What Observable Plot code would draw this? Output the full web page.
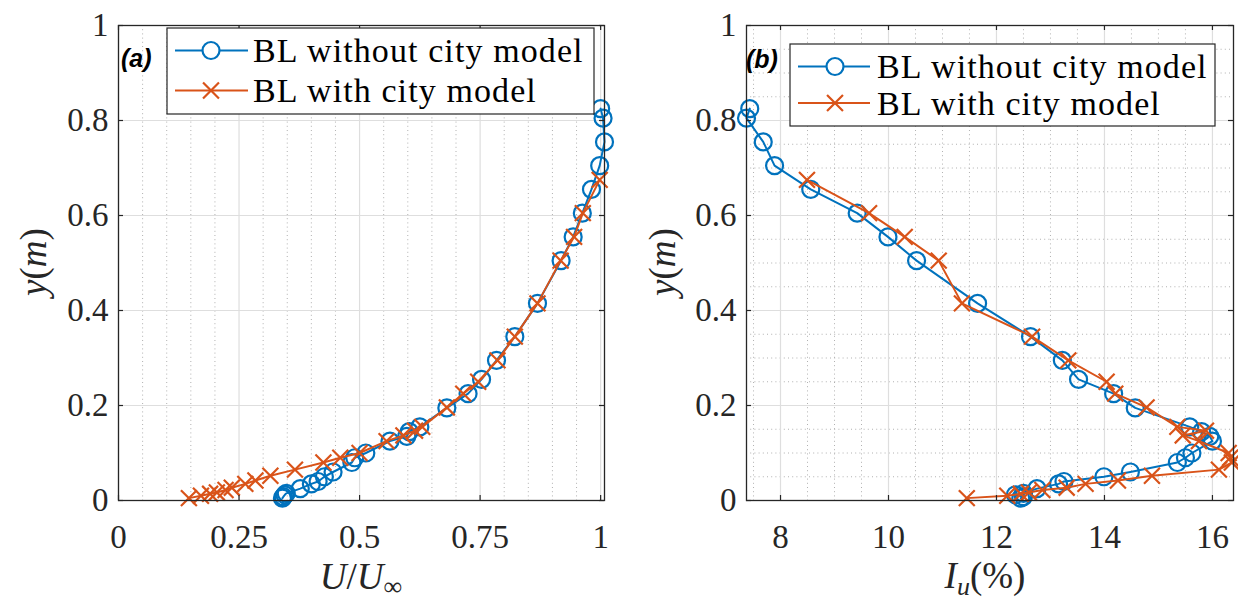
<!DOCTYPE html>
<html>
<head>
<meta charset="utf-8">
<script src="https://cdn.jsdelivr.net/npm/d3@7"></script>
<script src="https://cdn.jsdelivr.net/npm/@observablehq/plot@0.6"></script>
<style>
  html, body { margin: 0; padding: 0; background: #fff; }
  #wrap { position: relative; width: 1238px; height: 603px; overflow: hidden; }
  .panel { position: absolute; top: 0; }
  svg { overflow: visible; }
</style>
</head>
<body>
<div id="wrap">
  <div class="panel" id="pa" style="left:0px"></div>
  <div class="panel" id="pb" style="left:620px"></div>
</div>
<script>
// ---------- data ----------
const seriesNames = ["BL without city model", "BL with city model"];

// BL without city model (blue circles)
const yBlue  = [0.005,0.008,0.012,0.015,0.025,0.035,0.04,0.05,0.06,0.08,0.09,0.1,0.125,0.135,0.145,0.155,0.195,0.225,0.255,0.295,0.345,0.415,0.505,0.555,0.605,0.655,0.705,0.755,0.805,0.825];
const uBlue  = [0.34,0.342,0.345,0.348,0.377,0.40,0.414,0.427,0.445,0.484,0.49,0.513,0.563,0.598,0.603,0.625,0.681,0.725,0.753,0.784,0.822,0.869,0.918,0.943,0.962,0.981,0.998,1.008,1.005,1.0];
const iuBlue = [12.45,12.5,12.35,12.5,12.75,13.15,13.25,13.99,14.48,15.35,15.5,15.62,16.0,15.95,15.8,15.58,14.57,14.17,13.52,13.22,12.63,11.65,10.52,9.99,9.42,8.56,7.89,7.68,7.37,7.43];

// BL with city model (orange crosses)
const yOrange  = [0.005,0.01,0.014,0.017,0.022,0.027,0.035,0.042,0.052,0.065,0.08,0.09,0.1,0.125,0.137,0.147,0.155,0.196,0.225,0.25,0.295,0.345,0.415,0.505,0.555,0.605,0.675];
const uOrange  = [0.146,0.171,0.19,0.204,0.222,0.235,0.263,0.284,0.315,0.366,0.425,0.46,0.5,0.556,0.591,0.615,0.63,0.681,0.715,0.746,0.786,0.822,0.869,0.917,0.945,0.963,0.998];
const iuOrange = [11.45,12.2,12.45,12.6,12.85,13.3,13.65,14.25,14.88,16.12,16.36,16.33,16.3,15.75,15.45,15.88,15.35,14.78,14.2,14.04,13.33,12.66,11.36,10.93,10.3,9.64,8.49];

// ticks
const uTicks  = [0, 0.25, 0.5, 0.75, 1];
const iuTicks = [8, 10, 12, 14, 16];
const yTicks  = [0, 0.2, 0.4, 0.6, 0.8, 1];
const uMinor  = d3.range(1, 21).map(i => +(i * 0.05).toFixed(2)).filter(v => Math.abs(v / 0.25 - Math.round(v / 0.25)) > 1e-6);
const iuMinor = d3.range(15, 33).map(i => i / 2).filter(v => v % 2 !== 0);
const yMinor  = d3.range(1, 20).map(i => +(i * 0.05).toFixed(2)).filter(v => Math.abs(v / 0.2 - Math.round(v / 0.2)) > 1e-6);

// ---------- style ----------
const BLUE = "#0072BD", ORANGE = "#D95319", INK = "#262626";
const SERIF = "'Liberation Serif', 'DejaVu Serif', serif";
const H = 603, MT = 25, MB = 103;

function makePanel({width, ml, mr, xDomain, xTicks, xMinor, yMinorTicks, xBlue, xOrange}) {
  const blue = yBlue.map((y, i) => ({x: xBlue[i], y}));
  const orange = yOrange.map((y, i) => ({x: xOrange[i], y}));
  const frameW = width - ml - mr, frameH = H - MT - MB;
  const tl = 5;
  const marks = [
    Plot.ruleX(xMinor, {x: d => d, stroke: "#a8a8a8", strokeWidth: 0.9, strokeDasharray: "1,3.2"}),
  ];
  if (yMinorTicks) marks.push(Plot.ruleY(yMinorTicks, {y: d => d, stroke: "#a8a8a8", strokeWidth: 0.9, strokeDasharray: "1,3.2"}));
  marks.push(
    Plot.gridX(xTicks, {stroke: "#dedede", strokeOpacity: 1, strokeWidth: 1.2}),
    Plot.gridY(yTicks, {stroke: "#dedede", strokeOpacity: 1, strokeWidth: 1.2}),
    Plot.line(blue, {x: "x", y: "y", stroke: BLUE, strokeWidth: 2}),
    Plot.dot(blue, {x: "x", y: "y", r: 8.5, stroke: BLUE, strokeWidth: 2.2, fill: "none"}),
    Plot.line(orange, {x: "x", y: "y", stroke: ORANGE, strokeWidth: 2}),
    Plot.dot(orange, {x: "x", y: "y", symbol: "times", r: 7.3, stroke: ORANGE, strokeWidth: 2.2}),
    Plot.tickX(xTicks, {x: d => d, insetTop: frameH - tl, stroke: INK, strokeWidth: 1.2}),
    Plot.tickX(xTicks, {x: d => d, insetBottom: frameH - tl, stroke: INK, strokeWidth: 1.2}),
    Plot.tickY(yTicks, {y: d => d, insetRight: frameW - tl, stroke: INK, strokeWidth: 1.2}),
    Plot.tickY(yTicks, {y: d => d, insetLeft: frameW - tl, stroke: INK, strokeWidth: 1.2}),
    Plot.axisX({ticks: xTicks, tickFormat: d => String(d), tickSize: 0, tickPadding: 24, label: null, fill: INK}),
    Plot.axisY({ticks: yTicks, tickFormat: d => String(d), tickSize: 0, tickPadding: 10, label: null, fill: INK}),
    Plot.frame({stroke: INK, strokeWidth: 1.3})
  );
  return Plot.plot({
    width, height: H,
    marginLeft: ml, marginRight: mr, marginTop: MT, marginBottom: MB,
    x: {domain: xDomain, axis: null},
    y: {domain: [0, 1], axis: null},
    style: {fontFamily: SERIF, fontSize: "33px", color: INK, background: "white", overflow: "visible"},
    marks
  });
}

function addLegend(svg, {x, y, w, h, rows, lineX0, lineX1, markX, textX}) {
  const g = svg.append("g").attr("text-anchor", "start");
  g.append("rect").attr("x", x).attr("y", y).attr("width", w).attr("height", h)
    .attr("fill", "white").attr("stroke", INK).attr("stroke-width", 1.2);
  const colors = [BLUE, ORANGE];
  rows.forEach((ry, i) => {
    g.append("line").attr("x1", lineX0).attr("x2", lineX1).attr("y1", ry).attr("y2", ry)
      .attr("stroke", colors[i]).attr("stroke-width", 2);
    if (i === 0) {
      g.append("circle").attr("cx", markX).attr("cy", ry).attr("r", 8.5)
        .attr("fill", "white").attr("stroke", colors[i]).attr("stroke-width", 2.2);
    } else {
      g.append("path").attr("transform", `translate(${markX},${ry})`)
        .attr("d", d3.symbol(d3.symbolTimes, Math.PI * 7.3 * 7.3)())
        .attr("fill", "none").attr("stroke", colors[i]).attr("stroke-width", 2.2);
    }
    g.append("text").attr("x", textX).attr("y", ry).attr("dy", "0.35em")
      .attr("text-anchor", "start")
      .style("font-family", SERIF).style("font-size", "34px").style("letter-spacing", "1.1px")
      .attr("fill", "#000").text(seriesNames[i]);
  });
}

function addPanelTag(svg, x, y, label) {
  svg.append("text").attr("x", x).attr("y", y).attr("dy", "0.35em").attr("text-anchor", "start")
    .style("font-family", "'Liberation Sans', Arial, sans-serif").style("font-size", "25px")
    .style("font-weight", "bold").style("font-style", "italic").attr("fill", "#000").text(label);
}

function addYLabel(svg, x, y) {
  const t = svg.append("text").attr("transform", `translate(${x},${y}) rotate(-90)`)
    .attr("text-anchor", "middle").style("font-family", SERIF).style("font-size", "37px").attr("fill", INK);
  t.append("tspan").style("font-style", "italic").text("y");
  t.append("tspan").text("(");
  t.append("tspan").style("font-style", "italic").text("m");
  t.append("tspan").text(")");
}

// ---------- panel (a) ----------
const plotA = makePanel({
  width: 620, ml: 118, mr: 16,
  xDomain: [0, 1.008], xTicks: uTicks, xMinor: uMinor, yMinorTicks: null,
  xBlue: uBlue, xOrange: uOrange
});
document.getElementById("pa").appendChild(plotA);
const sA = d3.select(plotA);
addLegend(sA, {x: 167, y: 28, w: 427, h: 86, rows: [50.5, 90.5], lineX0: 175, lineX1: 248, markX: 211, textX: 253});
addPanelTag(sA, 121, 58, "(a)");
addYLabel(sA, 46, 262);
{
  const t = sA.append("text").attr("x", 361).attr("y", 589).attr("text-anchor", "middle")
    .style("font-family", SERIF).style("font-size", "37px").attr("fill", INK);
  t.append("tspan").style("font-style", "italic").text("U");
  t.append("tspan").text("/");
  t.append("tspan").style("font-style", "italic").text("U");
  t.append("tspan").attr("dy", 6).style("font-size", "26px").text("∞");
}

// ---------- panel (b) ----------
const plotB = makePanel({
  width: 618, ml: 126, mr: 5,
  xDomain: [7.37, 16.39], xTicks: iuTicks, xMinor: iuMinor, yMinorTicks: yMinor,
  xBlue: iuBlue, xOrange: iuOrange
});
document.getElementById("pb").appendChild(plotB);
const sB = d3.select(plotB);
addLegend(sB, {x: 170, y: 44, w: 425, h: 82, rows: [66.5, 103], lineX0: 178, lineX1: 250, markX: 215, textX: 257});
addPanelTag(sB, 126, 59, "(b)");
addYLabel(sB, 55, 262);
{
  const t = sB.append("text").attr("x", 365).attr("y", 588).attr("text-anchor", "middle")
    .style("font-family", SERIF).style("font-size", "37px").attr("fill", INK);
  t.append("tspan").style("font-style", "italic").text("I");
  t.append("tspan").attr("dy", 7).style("font-size", "26px").style("font-style", "italic").text("u");
  t.append("tspan").attr("dy", -7).text("(%)");
}
</script>
</body>
</html>
